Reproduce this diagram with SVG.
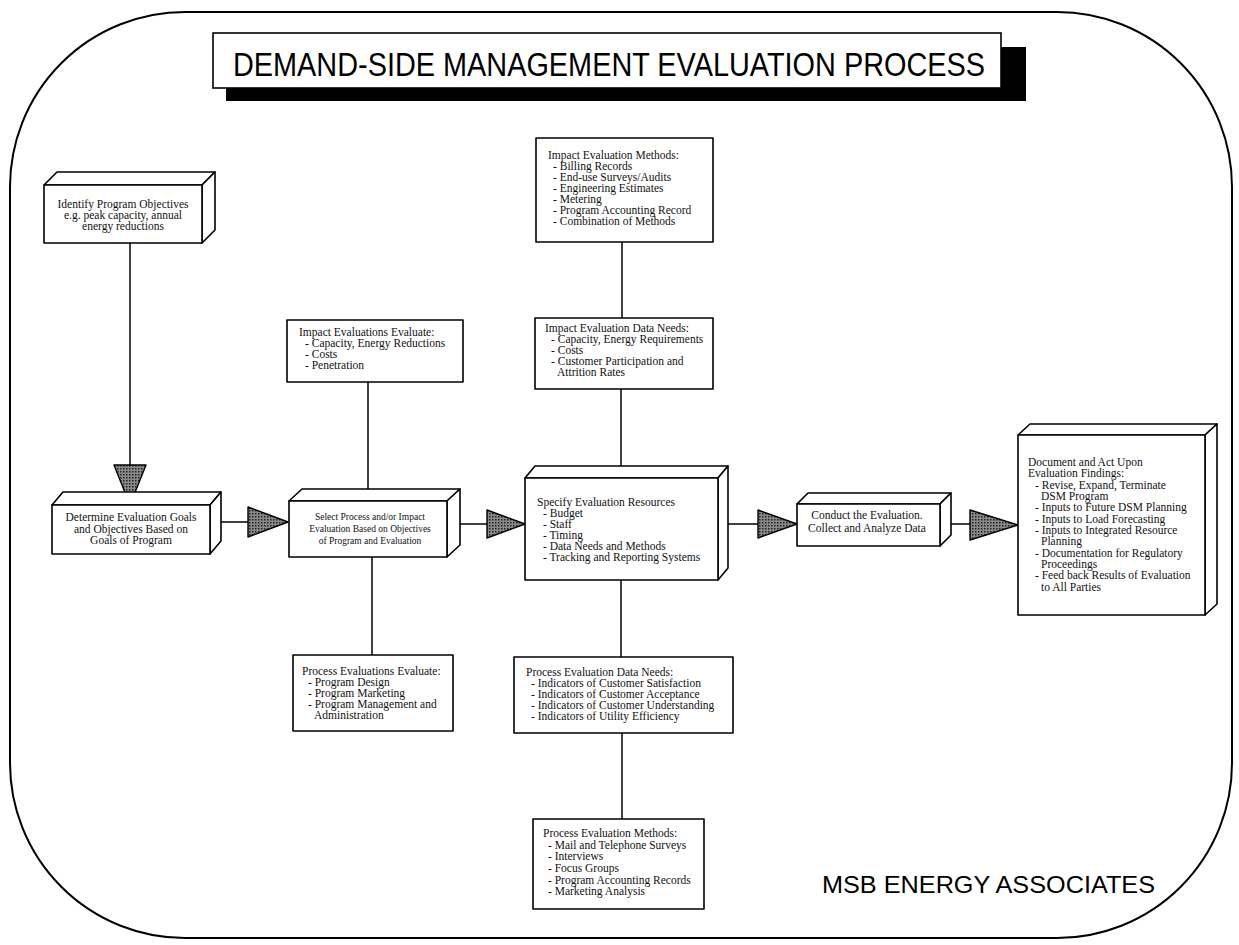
<svg xmlns="http://www.w3.org/2000/svg" width="1239" height="945" viewBox="0 0 1239 945">
<style>
.frame{fill:none;stroke:#000;stroke-width:2}
.box{fill:#fff;stroke:#000;stroke-width:1.6;stroke-linejoin:round}
.ln{fill:none;stroke:#000;stroke-width:1.5}
.ah{fill:url(#stip);stroke:#000;stroke-width:1.4;stroke-linejoin:round}
.t{font-family:"Liberation Serif","Times New Roman",serif;font-size:11.5px;fill:#111}
.c{text-anchor:middle}
.title{font-family:"Liberation Sans",Arial,sans-serif;font-size:34px;fill:#000}
.sig{font-family:"Liberation Sans",Arial,sans-serif;font-size:24px;fill:#000}
</style>
<defs>
<pattern id="stip" width="3" height="3" patternUnits="userSpaceOnUse">
<rect width="3" height="3" fill="#8a8a8a"/>
<rect width="1.5" height="1.5" fill="#222"/>
</pattern>
</defs>
<rect width="1239" height="945" fill="#fff"/>
<rect class="frame" x="10" y="12" width="1222" height="926" rx="175" ry="175"/>

<g id="title">
<rect x="226" y="47" width="800" height="54" fill="#000"/>
<rect x="213" y="33" width="788" height="55" fill="#fff" stroke="#000" stroke-width="1.6"/>
<text class="title" x="233" y="76" textLength="752" lengthAdjust="spacingAndGlyphs">DEMAND-SIDE MANAGEMENT EVALUATION PROCESS</text>
</g>

<g id="connectors">
<line class="ln" x1="130" y1="243" x2="130" y2="466"/>
<polygon class="ah" points="114,465 146,465 130,505"/>
<line class="ln" x1="216" y1="522" x2="249" y2="522"/>
<polygon class="ah" points="248,507 248,537 288,522"/>
<line class="ln" x1="455" y1="524" x2="488" y2="524"/>
<polygon class="ah" points="487,510 487,538 525,524"/>
<line class="ln" x1="728" y1="524" x2="759" y2="524"/>
<polygon class="ah" points="758,510 758,538 797,524"/>
<line class="ln" x1="951" y1="524" x2="971" y2="524"/>
<polygon class="ah" points="970,510 970,540 1018,525"/>
<line class="ln" x1="368" y1="382" x2="368" y2="495"/>
<line class="ln" x1="372" y1="557" x2="372" y2="655"/>
<line class="ln" x1="622" y1="242" x2="622" y2="318"/>
<line class="ln" x1="621" y1="389" x2="621" y2="466"/>
<line class="ln" x1="621" y1="580" x2="621" y2="657"/>
<line class="ln" x1="622" y1="733" x2="622" y2="819"/>
</g>

<g id="identify">
<polygon class="box" points="44,185 57,172 215,172 202,185"/>
<polygon class="box" points="202,185 215,172 215,230 202,243"/>
<rect class="box" x="44" y="185" width="158" height="58"/>
<text class="t c" x="123" y="208">Identify Program Objectives</text>
<text class="t c" x="123" y="219">e.g. peak capacity, annual</text>
<text class="t c" x="123" y="230">energy reductions</text>
</g>

<g id="determine">
<polygon class="box" points="52,505 63,492 221,492 210,505"/>
<polygon class="box" points="210,505 221,492 221,541 210,554"/>
<rect class="box" x="52" y="505" width="158" height="49"/>
<text class="t c" x="131" y="521">Determine Evaluation Goals</text>
<text class="t c" x="131" y="532.5">and Objectives Based on</text>
<text class="t c" x="131" y="544">Goals of Program</text>
</g>

<g id="select">
<polygon class="box" points="289,501 302,489 460,489 447,501"/>
<polygon class="box" points="447,501 460,489 460,545 447,557"/>
<rect class="box" x="289" y="501" width="158" height="56"/>
<text class="t c" x="370" y="520" style="font-size:9.5px">Select Process and/or Impact</text>
<text class="t c" x="370" y="532" style="font-size:9.5px">Evaluation Based on Objectives</text>
<text class="t c" x="370" y="544" style="font-size:9.5px">of Program and Evaluation</text>
</g>

<g id="specify">
<polygon class="box" points="525,478 535,466 728,466 718,478"/>
<polygon class="box" points="718,478 728,466 728,568 718,580"/>
<rect class="box" x="525" y="478" width="193" height="102"/>
<text class="t" x="537" y="506">Specify Evaluation Resources</text>
<text class="t" x="543" y="517">- Budget</text>
<text class="t" x="543" y="528">- Staff</text>
<text class="t" x="543" y="539">- Timing</text>
<text class="t" x="543" y="550">- Data Needs and Methods</text>
<text class="t" x="543" y="561">- Tracking and Reporting Systems</text>
</g>

<g id="conduct">
<polygon class="box" points="797,504 808,493 951,493 940,504"/>
<polygon class="box" points="940,504 951,493 951,535 940,546"/>
<rect class="box" x="797" y="504" width="143" height="42"/>
<text class="t c" x="867" y="519">Conduct the Evaluation.</text>
<text class="t c" x="867" y="532">Collect and Analyze Data</text>
</g>

<g id="document">
<polygon class="box" points="1018,435 1030,424 1217,424 1205,435"/>
<polygon class="box" points="1205,435 1217,424 1217,604 1205,615"/>
<rect class="box" x="1018" y="435" width="187" height="180"/>
<text class="t" x="1028" y="466">Document and Act Upon</text>
<text class="t" x="1028" y="477">Evaluation Findings:</text>
<text class="t" x="1035" y="489">- Revise, Expand, Terminate</text>
<text class="t" x="1041" y="500">DSM Program</text>
<text class="t" x="1035" y="511">- Inputs to Future DSM Planning</text>
<text class="t" x="1035" y="523">- Inputs to Load Forecasting</text>
<text class="t" x="1035" y="534">- Inputs to Integrated Resource</text>
<text class="t" x="1041" y="545">Planning</text>
<text class="t" x="1035" y="557">- Documentation for Regulatory</text>
<text class="t" x="1041" y="568">Proceedings</text>
<text class="t" x="1035" y="579">- Feed back Results of Evaluation</text>
<text class="t" x="1041" y="591">to All Parties</text>
</g>

<g id="impact-methods">
<rect class="box" x="536" y="138" width="177" height="104"/>
<text class="t" x="548" y="159">Impact Evaluation Methods:</text>
<text class="t" x="553" y="170">- Billing Records</text>
<text class="t" x="553" y="181">- End-use Surveys/Audits</text>
<text class="t" x="553" y="192">- Engineering Estimates</text>
<text class="t" x="553" y="203">- Metering</text>
<text class="t" x="553" y="214">- Program Accounting Record</text>
<text class="t" x="553" y="225">- Combination of Methods</text>
</g>

<g id="impact-needs">
<rect class="box" x="535" y="318" width="178" height="71"/>
<text class="t" x="545" y="332">Impact Evaluation Data Needs:</text>
<text class="t" x="551" y="343">- Capacity, Energy Requirements</text>
<text class="t" x="551" y="354">- Costs</text>
<text class="t" x="551" y="365">- Customer Participation and</text>
<text class="t" x="557" y="376">Attrition Rates</text>
</g>

<g id="impact-evaluate">
<rect class="box" x="287" y="320" width="176" height="62"/>
<text class="t" x="299" y="336">Impact Evaluations Evaluate:</text>
<text class="t" x="305" y="347">- Capacity, Energy Reductions</text>
<text class="t" x="305" y="358">- Costs</text>
<text class="t" x="305" y="369">- Penetration</text>
</g>

<g id="process-evaluate">
<rect class="box" x="293" y="655" width="160" height="76"/>
<text class="t" x="302" y="675">Process Evaluations Evaluate:</text>
<text class="t" x="308" y="686">- Program Design</text>
<text class="t" x="308" y="697">- Program Marketing</text>
<text class="t" x="308" y="708">- Program Management and</text>
<text class="t" x="314" y="719">Administration</text>
</g>

<g id="process-needs">
<rect class="box" x="514" y="657" width="219" height="76"/>
<text class="t" x="526" y="676">Process Evaluation Data Needs:</text>
<text class="t" x="531" y="687">- Indicators of Customer Satisfaction</text>
<text class="t" x="531" y="698">- Indicators of Customer Acceptance</text>
<text class="t" x="531" y="709">- Indicators of Customer Understanding</text>
<text class="t" x="531" y="720">- Indicators of Utility Efficiency</text>
</g>

<g id="process-methods">
<rect class="box" x="533" y="819" width="171" height="90"/>
<text class="t" x="543" y="837">Process Evaluation Methods:</text>
<text class="t" x="548" y="849">- Mail and Telephone Surveys</text>
<text class="t" x="548" y="860">- Interviews</text>
<text class="t" x="548" y="872">- Focus Groups</text>
<text class="t" x="548" y="884">- Program Accounting Records</text>
<text class="t" x="548" y="895">- Marketing Analysis</text>
</g>

<text class="sig" x="822" y="893" textLength="333" lengthAdjust="spacingAndGlyphs">MSB ENERGY ASSOCIATES</text>
</svg>
